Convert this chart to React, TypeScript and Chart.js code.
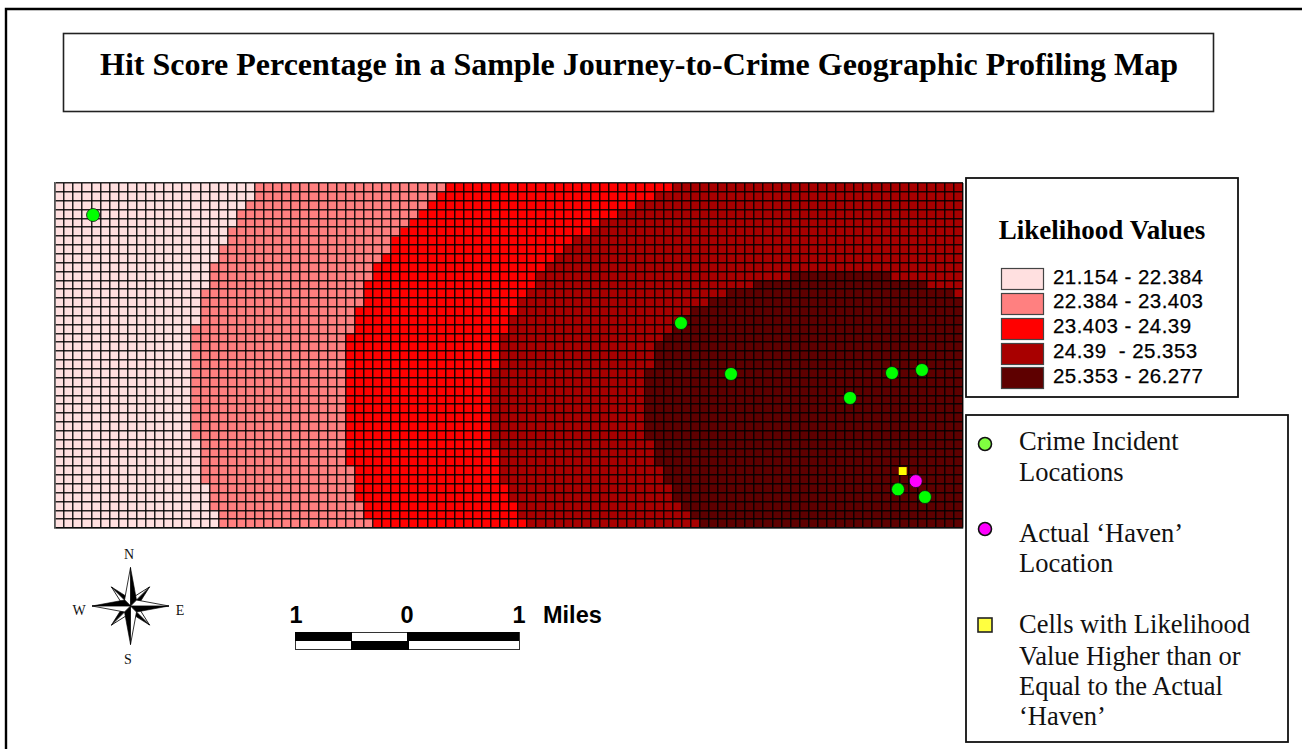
import React, { useEffect, useRef } from "react";
import { Chart, registerables } from "chart.js";

Chart.register(...registerables);

const COLS = 100;
const ROWS = 39;

const titleText = "Hit Score Percentage in a Sample Journey-to-Crime Geographic Profiling Map";
const legendTitle = "Likelihood Values";
const classLabels = ["21.154 - 22.384", "22.384 - 23.403", "23.403 - 24.39", "24.39  - 25.353", "25.353 - 26.277"];
const classColors = ["#FFE0E0", "#FF8080", "#FF0000", "#A80000", "#5E0000"];

// Column where each class stops, for each grid row (top to bottom)
const paleEnd = [22,22,21,20,20,19,19,18,18,17,17,17,16,16,16,16,15,15,15,15,15,15,15,15,15,15,15,15,15,16,16,16,16,16,17,17,17,18,18];
const salmonEnd = [43,42,41,40,39,38,37,37,36,35,35,34,34,34,33,33,33,32,32,32,32,32,32,32,32,32,32,32,32,32,32,32,33,33,33,33,34,34,35];
const redEnd = [68,66,64,62,60,59,57,56,55,54,53,53,52,51,51,50,50,49,49,49,49,48,48,48,48,48,48,48,48,48,49,49,49,49,50,50,51,51,52];
const deepStart = [100,100,100,100,100,100,100,100,100,100,81,77,74,72,70,69,68,67,66,66,66,65,65,65,65,65,65,65,65,66,66,66,67,67,68,68,69,70,71];
const deepEnd = [100,100,100,100,100,100,100,100,100,100,92,96,99,100,100,100,100,100,100,100,100,100,100,100,100,100,100,100,100,100,100,100,100,100,100,100,100,100,100];

// Point locations in grid units (column, row)
const crimeIncidents = [
  { x: 4.19, y: 3.62 },
  { x: 68.94, y: 15.83 },
  { x: 74.45, y: 21.59 },
  { x: 92.18, y: 21.48 },
  { x: 95.48, y: 21.14 },
  { x: 87.56, y: 24.3 },
  { x: 92.84, y: 34.63 },
  { x: 95.81, y: 35.5 },
];
const havenLocation = [{ x: 94.8, y: 33.7 }];
const higherCells = [{ x: 93.36, y: 32.56 }];

const keyCrime = ["Crime Incident", "Locations"];
const keyHaven = ["Actual \u2018Haven\u2019", "Location"];
const keyCells = ["Cells with Likelihood", "Value Higher than or", "Equal to the Actual", "\u2018Haven\u2019"];

const SERIF = "'Liberation Serif', serif";
const SANS = "'Liberation Sans', sans-serif";

const band = (starts: number[], ends: number[]) =>
  starts.map((s, r) => ({ x: [s, ends[r]], y: r + 0.5 }));

const zeros = paleEnd.map(() => 0);
const full = paleEnd.map(() => COLS);

const barDefaults = {
  type: "bar",
  indexAxis: "y",
  grouped: false,
  barPercentage: 1,
  categoryPercentage: 1,
  borderWidth: 0,
  xAxisID: "x",
  yAxisID: "y",
};

const pointsOnTop = {
  id: "pointsOnTop",
  beforeDatasetDraw(_c: any, args: any) {
    if (args.meta.type === "scatter") return false;
  },
  afterDraw(chart: any) {
    chart.data.datasets.forEach((_d: any, i: number) => {
      const meta = chart.getDatasetMeta(i);
      if (meta.type === "scatter") meta.controller.draw();
    });
  },
};

function Compass() {
  const cx = 130.5, cy = 606;
  const L = 38.5, D = 27, w = 6;
  const dirs = [0, 90, 180, 270];
  const diag = [45, 135, 225, 315];
  const ray = (deg: number, len: number, width: number, key: string) => (
    <g key={key} transform={`rotate(${deg} ${cx} ${cy})`}>
      <polygon points={`${cx},${cy - len} ${cx + width},${cy - width} ${cx},${cy}`} fill="#000" stroke="#000" strokeWidth={0.6} />
      <polygon points={`${cx},${cy - len} ${cx - width},${cy - width} ${cx},${cy}`} fill="#fff" stroke="#000" strokeWidth={0.8} />
    </g>
  );
  return (
    <g>
      {diag.map((d) => ray(d, D, 5, "d" + d))}
      {dirs.map((d) => ray(d, L, w, "m" + d))}
      <g fontFamily={SERIF} fontSize={14} fill="#111" textAnchor="middle">
        <text x={129} y={559}>N</text>
        <text x={128} y={664}>S</text>
        <text x={79} y={615}>W</text>
        <text x={180} y={615}>E</text>
      </g>
    </g>
  );
}

function ScaleBar() {
  return (
    <g>
      <rect x={295.5} y={632.5} width={224} height={17} fill="#fff" stroke="#333" strokeWidth={1} />
      <rect x={295} y={632} width={57} height={9} fill="#000" />
      <rect x={407} y={632} width={112} height={9} fill="#000" />
      <rect x={351} y={641} width={58} height={9} fill="#000" />
      <g fontFamily={SANS} fontSize={23.5} fontWeight="bold" fill="#000" textAnchor="middle">
        <text x={296} y={623}>1</text>
        <text x={407} y={623}>0</text>
        <text x={519} y={623}>1</text>
        <text x={543} y={623} textAnchor="start">Miles</text>
      </g>
    </g>
  );
}

function Overlay() {
  const swatchY = [268, 293, 318, 343, 367];
  const labelY = [284, 308, 333, 358, 383];
  const keyText = (lines: string[], ys: number[]) =>
    lines.map((t, i) => (
      <text key={t} x={1019} y={ys[i]} fontFamily={SERIF} fontSize={26.5} fill="#111">{t}</text>
    ));
  return (
    <svg width={1302} height={749} style={{ position: "absolute", left: 0, top: 0 }}>
      <path d="M1302 9 H6 V749" fill="none" stroke="#000" strokeWidth={2.4} />
      <rect x={63.5} y={33.5} width={1150} height={78} fill="#fff" stroke="#222" strokeWidth={1.6} />
      <text x={100} y={75} fontFamily={SERIF} fontSize={32} fontWeight="bold" fill="#000">{titleText}</text>

      <rect x={966} y={178} width={272} height={219} fill="#fff" stroke="#111" strokeWidth={1.8} />
      <text x={1102} y={239} textAnchor="middle" fontFamily={SERIF} fontSize={27} fontWeight="bold" fill="#000">{legendTitle}</text>
      {classLabels.map((t, i) => (
        <g key={t}>
          <rect x={1001.5} y={swatchY[i] + 0.5} width={42} height={21} fill={classColors[i]} stroke="#444" strokeWidth={1.2} />
          <text x={1053} y={labelY[i]} fontFamily={SANS} fontSize={20.5} fill="#000" stroke="#000" strokeWidth={0.25} style={{ whiteSpace: "pre", letterSpacing: 0.45 }}>{t}</text>
        </g>
      ))}

      <rect x={966} y={415} width={322} height={327} fill="#fff" stroke="#111" strokeWidth={1.8} />
      <circle cx={985} cy={444} r={6.5} fill="#80FF40" stroke="#111" strokeWidth={1.6} />
      <circle cx={985} cy={529} r={6.5} fill="#FF00FF" stroke="#111" strokeWidth={1.6} />
      <rect x={978} y={618} width={14} height={14} fill="#FFFF40" stroke="#222" strokeWidth={1.6} />
      {keyText(keyCrime, [450, 481])}
      {keyText(keyHaven, [542, 572])}
      {keyText(keyCells, [633, 665, 695, 725])}

      <Compass />
      <ScaleBar />
    </svg>
  );
}

const gridOpts = { color: "rgba(0,0,0,0.85)", lineWidth: 1.5, z: 1, drawTicks: false, offset: false };
const borderOpts = { display: true, color: "#555", width: 1.5, z: 1 };

export default function App() {
  const ref = useRef<HTMLCanvasElement>(null);
  useEffect(() => {
    const chart = new Chart(ref.current as HTMLCanvasElement, {
      type: "bar",
      plugins: [pointsOnTop],
      data: {
        datasets: [
          { ...barDefaults, label: classLabels[0], data: band(zeros, paleEnd), backgroundColor: classColors[0] },
          { ...barDefaults, label: classLabels[1], data: band(paleEnd, salmonEnd), backgroundColor: classColors[1] },
          { ...barDefaults, label: classLabels[2], data: band(salmonEnd, redEnd), backgroundColor: classColors[2] },
          { ...barDefaults, label: classLabels[3], data: band(redEnd, deepStart), backgroundColor: classColors[3] },
          { ...barDefaults, label: classLabels[4], data: band(deepStart, deepEnd), backgroundColor: classColors[4] },
          { ...barDefaults, label: classLabels[3] + " (east)", data: band(deepEnd, full), backgroundColor: classColors[3] },
          { type: "scatter", label: "Cells", data: higherCells, xAxisID: "x", yAxisID: "y", pointStyle: "rect", pointRadius: 5.6, backgroundColor: "#FFFF00", borderWidth: 0 },
          { type: "scatter", label: "Crime Incident Locations", data: crimeIncidents, xAxisID: "x", yAxisID: "y", pointRadius: 6.5, backgroundColor: "#00FF00", borderColor: "#111", borderWidth: 0.8 },
          { type: "scatter", label: "Actual Haven Location", data: havenLocation, xAxisID: "x", yAxisID: "y", pointRadius: 6.5, backgroundColor: "#FF00FF", borderColor: "#111", borderWidth: 0.8 },
        ] as any,
      },
      options: {
        responsive: false,
        animation: false,
        devicePixelRatio: 1,
        layout: { padding: { left: 55, right: 339, top: 183, bottom: 221 } },
        plugins: { legend: { display: false }, title: { display: false }, tooltip: { enabled: false } },
        scales: {
          x: {
            type: "linear", min: 0, max: COLS, offset: false,
            ticks: { display: false, stepSize: 1, autoSkip: false },
            grid: gridOpts,
            border: borderOpts,
          },
          y: {
            type: "linear", min: 0, max: ROWS, reverse: true, offset: false,
            ticks: { display: false, stepSize: 1, autoSkip: false },
            grid: gridOpts,
            border: borderOpts,
          },
        },
      } as any,
    });
    return () => chart.destroy();
  }, []);
  return (
    <div style={{ position: "absolute", left: 0, top: 0, width: 1302, height: 749, background: "#fff", overflow: "hidden" }}>
      <Overlay />
      <canvas ref={ref} width={1302} height={749} style={{ position: "absolute", left: 0, top: 0, width: 1302, height: 749 }} />
    </div>
  );
}
